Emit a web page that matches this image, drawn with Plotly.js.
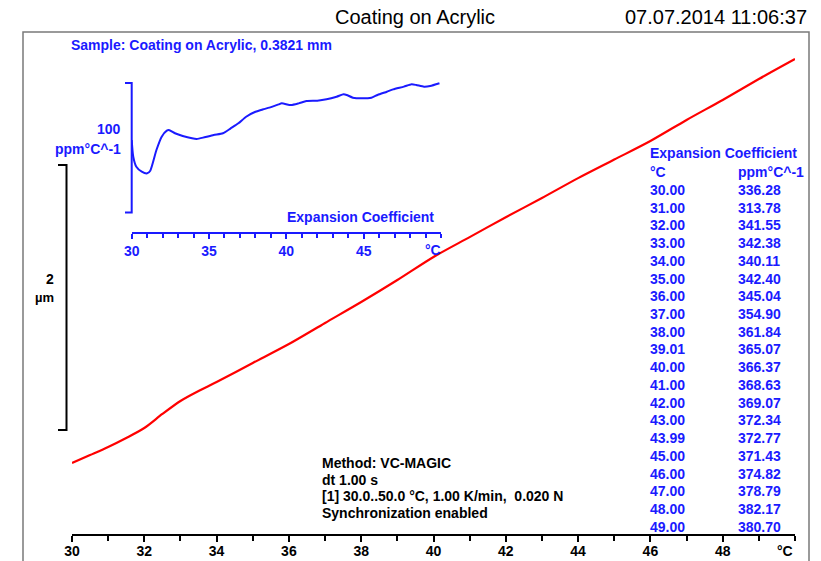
<!DOCTYPE html>
<html><head><meta charset="utf-8">
<script src="https://cdn.plot.ly/plotly-3.0.1.min.js"></script>
<style>html,body{margin:0;padding:0;background:#fff}#chart{width:821px;height:561px}</style>
</head><body><div id="chart"></div>
<script>
// Main curve: temperature (°C) vs change in length (µm)
const mainTemp = [30, 30.5, 31, 31.5, 32, 32.5, 33, 33.5, 34, 35, 36, 37, 38, 39, 40, 41, 42, 43, 44, 45, 46, 47, 48, 49, 50];
const mainDL   = [0, 0.060, 0.121, 0.189, 0.264, 0.370, 0.468, 0.543, 0.611, 0.755, 0.898, 1.057, 1.215, 1.381, 1.555, 1.705, 1.855, 2.000, 2.150, 2.290, 2.430, 2.589, 2.740, 2.898, 3.049];

// Inset curve: expansion coefficient (ppm/°C)
const cteTemp = [30.0, 30.1, 30.3, 30.65, 31.0, 31.2, 31.6, 31.94, 32.27, 32.4, 32.8, 33.3, 33.9, 34.2, 34.7, 35.3, 35.9, 36.4, 36.9, 37.4, 38.0, 38.5, 38.9, 39.5, 39.7, 40.3, 40.8, 41.3, 42.0, 42.6, 43.25, 43.7, 43.9, 44.3, 44.9, 45.5, 45.9, 46.5, 46.9, 47.6, 48.1, 48.4, 48.9, 49.3, 49.9];
const cteVal  = [339.0, 326.1, 318.4, 314.6, 313.3, 315.3, 331.3, 341.6, 346.2, 346.7, 344.2, 342.1, 340.3, 339.8, 341.1, 342.9, 344.2, 348.0, 351.9, 357.0, 360.8, 362.7, 364.0, 366.5, 367.3, 366.0, 367.3, 369.1, 369.4, 370.4, 372.4, 374.3, 373.8, 371.7, 371.2, 371.7, 373.8, 376.3, 378.1, 380.2, 382.0, 381.5, 380.2, 380.7, 382.8];

// Table
const tableTemp = ['30.00','31.00','32.00','33.00','34.00','35.00','36.00','37.00','38.00','39.01','40.00','41.00','42.00','43.00','43.99','45.00','46.00','47.00','48.00','49.00'];
const tableCTE  = ['336.28','313.78','341.55','342.38','340.11','342.40','345.04','354.90','361.84','365.07','366.37','368.63','369.07','372.34','372.77','371.43','374.82','378.79','382.17','380.70'];

const mainTicks = [30, 32, 34, 36, 38, 40, 42, 44, 46, 48];
const insetTicks = [30, 35, 40, 45];
const methodLines = ['Method: VC-MAGIC', 'dt 1.00 s', '[1] 30.0..50.0 °C, 1.00 K/min,  0.020 N', 'Synchronization enabled'];
const scaleBarUm = [0.25, 2.25];      // 2 µm scale bar
const insetBar = [283, 383];          // 100 ppm°C^-1 scale bar

const W = 821, H = 561, L = 72, R = 26, T = 32, B = 27;
const pw = W - L - R, ph = H - T - B;
const px2x = px => (px - L) / pw;
const px2y = py => (H - B - py) / ph;

const FONT = 'Liberation Sans, Arial, sans-serif';
const BLUE = '#1a1aff';

const traces = [
  {x: mainTemp, y: mainDL, type: 'scatter', mode: 'lines', line: {color: '#ff0000', width: 2.2, shape: 'spline', smoothing: 0.8}, xaxis: 'x', yaxis: 'y', hoverinfo: 'skip'},
  {x: cteTemp, y: cteVal, type: 'scatter', mode: 'lines', line: {color: BLUE, width: 2, shape: 'spline', smoothing: 0.6}, xaxis: 'x2', yaxis: 'y2', hoverinfo: 'skip'}
];

const ann = [];
function txt(text, x, y, opts) {
  ann.push(Object.assign({text: text, x: px2x(x), y: px2y(y), xref: 'paper', yref: 'paper', showarrow: false,
    xanchor: 'left', yanchor: 'middle', borderpad: 0,
    font: {family: FONT, size: 14, color: BLUE, weight: 'bold'}}, opts || {}));
}
txt('07.07.2014 11:06:37', 808, 17, {xanchor: 'right', font: {family: FONT, size: 20, color: '#000'}});
txt('Sample: Coating on Acrylic, 0.3821 mm', 70, 45);
txt('100', 122, 129, {xanchor: 'right'});
txt('ppm°C^-1', 122, 149, {xanchor: 'right'});
txt('Expansion Coefficient', 435, 217, {xanchor: 'right'});
txt('°C', 433, 250, {xanchor: 'center'});
txt('2', 55, 279, {xanchor: 'right', font: {family: FONT, size: 14, color: '#000', weight: 'bold'}});
txt('µm', 55, 297, {xanchor: 'right', font: {family: FONT, size: 13, color: '#000', weight: 'bold'}});
txt('°C', 785, 551, {xanchor: 'center', font: {family: FONT, size: 14, color: '#000', weight: 'bold'}});
txt('Expansion Coefficient', 649, 153);
txt('°C', 649, 172);
txt('ppm°C^-1', 737, 172);
tableTemp.forEach((t, i) => {
  const yy = 190 + i * 17.72;
  txt(t, 649, yy);
  txt(tableCTE[i], 737, yy);
});
methodLines.forEach((m, i) => txt(m, 321, 463 + i * 16.6, {font: {family: FONT, size: 14, color: '#000', weight: 'bold'}}));

const shapes = [
  // frame
  {type: 'rect', xref: 'paper', yref: 'paper', x0: px2x(23), x1: px2x(809), y0: -0.2, y1: px2y(32), line: {color: '#7a7a7a', width: 1.5}},
  // main scale bar (2 µm)
  {type: 'path', xref: 'paper', yref: 'y',
   path: `M${px2x(58)},${scaleBarUm[1]} L${px2x(66.5)},${scaleBarUm[1]} L${px2x(66.5)},${scaleBarUm[0]} L${px2x(58)},${scaleBarUm[0]}`,
   line: {color: '#000', width: 2}},
  // inset scale bar (100 ppm)
  {type: 'path', xref: 'paper', yref: 'y2',
   path: `M${px2x(125)},${insetBar[1]} L${px2x(131.7)},${insetBar[1]} L${px2x(131.7)},${insetBar[0]} L${px2x(125)},${insetBar[0]}`,
   line: {color: BLUE, width: 2}}
];

// y range keeps 0 µm at pixel 463 and 132.5 px per µm
const yBot = -(H - B - 463) / 132.5, yTop = (463 - T) / 132.5;

const layout = {
  width: W, height: H,
  margin: {l: L, r: R, t: T, b: B},
  paper_bgcolor: '#fff', plot_bgcolor: 'rgba(0,0,0,0)',
  showlegend: false,
  font: {family: FONT},
  title: {text: 'Coating on Acrylic', font: {family: FONT, size: 20, color: '#000'}, x: 415 / W, xref: 'container', xanchor: 'center', y: 1 - 17 / H, yref: 'container', yanchor: 'middle'},
  xaxis: {domain: [0, 1], range: [30, 50], anchor: 'y', showgrid: false, zeroline: false,
    showline: true, linecolor: '#000', linewidth: 2,
    ticks: 'outside', tickvals: mainTicks, ticktext: mainTicks.map(String), ticklen: 6, tickwidth: 2, tickcolor: '#000',
    minor: {dtick: 1, tick0: 30, ticks: 'outside', ticklen: 5, tickwidth: 2, tickcolor: '#000', showgrid: false},
    tickfont: {family: FONT, size: 14, color: '#000', weight: 'bold'}, ticklabelstandoff: -3},
  yaxis: {domain: [0, 1], range: [yBot, yTop], anchor: 'x', visible: false, showgrid: false, zeroline: false},
  xaxis2: {domain: [px2x(131.7), px2x(441)], range: [30, 50], anchor: 'y2', showgrid: false, zeroline: false,
    showline: true, linecolor: BLUE, linewidth: 2,
    ticks: 'outside', tickvals: insetTicks, ticktext: insetTicks.map(String), ticklen: 5, tickwidth: 2, tickcolor: BLUE,
    minor: {dtick: 1, tick0: 30, ticks: 'outside', ticklen: 4, tickwidth: 2, tickcolor: BLUE, showgrid: false},
    tickfont: {family: FONT, size: 14, color: BLUE, weight: 'bold'}, ticklabelstandoff: 0},
  yaxis2: {domain: [px2y(232), px2y(75)], range: [268.0, 389.2], anchor: 'x2', visible: false, showgrid: false, zeroline: false},
  annotations: ann,
  shapes: shapes
};

Plotly.newPlot('chart', traces, layout, {staticPlot: true, displayModeBar: false});
</script>
</body></html>
